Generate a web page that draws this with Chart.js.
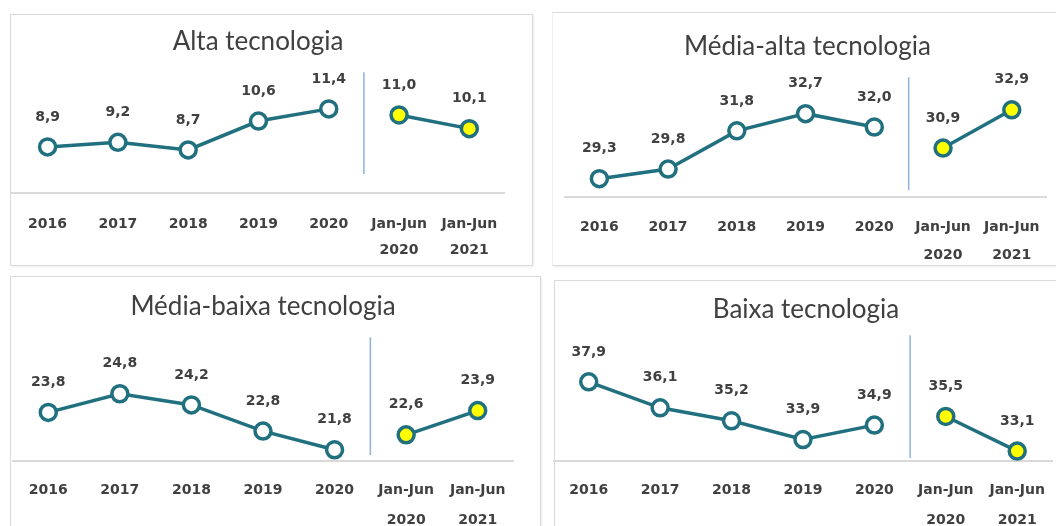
<!DOCTYPE html>
<html>
<head>
<meta charset="utf-8">
<script src="https://cdn.jsdelivr.net/npm/chart.js@4"></script>
<style>
  body { margin: 0; background: #fff; width: 1056px; height: 526px; overflow: hidden; position: relative; }
  .panel { position: absolute; box-sizing: border-box; border: 1px solid #dadada; box-shadow: 1px 1px 2px rgba(0,0,0,0.07); }
  .chart { position: absolute; }
</style>
</head>
<body>
<div class="panel" style="left:10px;top:14px;width:523px;height:252px"></div>
<div class="panel" style="left:552px;top:12px;width:520px;height:254px;border-left-color:#f0f0f0"></div>
<div class="panel" style="left:10px;top:276px;width:531px;height:270px"></div>
<div class="panel" style="left:554px;top:280px;width:520px;height:270px"></div>

<!-- canvases are taller than panels: the axis reserves tick padding twice -->
<div class="chart" style="left:10px;top:14px;width:523px;height:274px"><canvas id="chartAlta"></canvas></div>
<div class="chart" style="left:552px;top:12px;width:504px;height:274px"><canvas id="chartMediaAlta"></canvas></div>
<div class="chart" style="left:10px;top:276px;width:531px;height:276px"><canvas id="chartMediaBaixa"></canvas></div>
<div class="chart" style="left:553px;top:280px;width:506px;height:276px"><canvas id="chartBaixa"></canvas></div>

<script>
// Categories (annual + first-half comparisons)
const categories = ['2016', '2017', '2018', '2019', '2020', ['Jan-Jun', '2020'], ['Jan-Jun', '2021']];

// Values per technology group (%)
const altaAnual = [8.9, 9.2, 8.7, 10.6, 11.4];
const altaSemestre = [11.0, 10.1];
const mediaAltaAnual = [29.3, 29.8, 31.8, 32.7, 32.0];
const mediaAltaSemestre = [30.9, 32.9];
const mediaBaixaAnual = [23.8, 24.8, 24.2, 22.8, 21.8];
const mediaBaixaSemestre = [22.6, 23.9];
const baixaAnual = [37.9, 36.1, 35.2, 33.9, 34.9];
const baixaSemestre = [35.5, 33.1];

const TEAL = '#21707f';
const TEXT = '#404040';

// vertical divider between annual and half-year points
const separatorPlugin = {
    id: 'separator',
    afterDatasetsDraw(chart, args, opts) {
        const ctx = chart.ctx;
        const x = chart.scales.x;
        const xp = (x.getPixelForValue(4) + x.getPixelForValue(5)) / 2;
        const { top, bottom } = chart.chartArea;
        ctx.save();
        ctx.strokeStyle = '#8db2dd';
        ctx.lineWidth = 1.5;
        ctx.beginPath();
        ctx.moveTo(xp, top + opts.top);
        ctx.lineTo(xp, bottom - opts.bottom);
        ctx.stroke();
        ctx.restore();
    }
};

// value labels above each point, decimal comma
const valueLabelPlugin = {
    id: 'valueLabels',
    afterDatasetsDraw(chart) {
        const ctx = chart.ctx;
        ctx.save();
        ctx.font = 'bold 14px "DejaVu Sans"';
        ctx.fillStyle = TEXT;
        ctx.textAlign = 'center';
        ctx.textBaseline = 'middle';
        chart.data.datasets.forEach((ds, i) => {
            chart.getDatasetMeta(i).data.forEach((pt, j) => {
                const v = ds.data[j];
                if (v === null || v === undefined) return;
                ctx.fillText(v.toFixed(1).replace('.', ','), pt.x, pt.y - 30);
            });
        });
        ctx.restore();
    }
};

function makeChart(id, title, anual, semestre, cfg) {
    const lineStyle = {
        borderColor: TEAL,
        borderWidth: 3.5,
        pointRadius: 8,
        pointBorderWidth: 3.5,
        pointBorderColor: TEAL,
        spanGaps: false,
        clip: false
    };
    new Chart(document.getElementById(id), {
        type: 'line',
        data: {
            labels: categories,
            datasets: [
                { ...lineStyle, data: [...anual, null, null], pointBackgroundColor: '#ffffff' },
                { ...lineStyle, data: [null, null, null, null, null, ...semestre], pointBackgroundColor: '#ffff00' }
            ]
        },
        options: {
            responsive: true,
            maintainAspectRatio: false,
            animation: false,
            events: [],
            layout: { padding: cfg.padding, autoPadding: false },
            plugins: {
                legend: { display: false },
                tooltip: { enabled: false },
                title: {
                    display: true,
                    text: title,
                    color: TEXT,
                    font: { family: 'Lato', size: 26, weight: 'normal', lineHeight: 1.2 },
                    padding: cfg.titlePadding
                },
                separator: cfg.separator
            },
            scales: {
                x: {
                    offset: true,
                    grid: { display: false, drawTicks: false },
                    border: { color: '#d9d9d9', width: 2 },
                    ticks: {
                        color: TEXT,
                        font: { family: 'DejaVu Sans', size: 14, weight: 'bold', lineHeight: cfg.lineHeight + 'px' },
                        padding: cfg.tickPadding,
                        maxRotation: 0,
                        autoSkip: false
                    }
                },
                y: { display: false, min: cfg.min, max: cfg.max }
            }
        },
        plugins: [separatorPlugin, valueLabelPlugin]
    });
}

makeChart('chartAlta', 'Alta tecnologia', altaAnual, altaSemestre, {
    padding: { left: 1.5, right: 28.5, top: 0, bottom: 7 },
    titlePadding: { top: 12, bottom: 17 },
    lineHeight: 26, tickPadding: 18,
    min: 5.87, max: 13.68,
    separator: { top: -2, bottom: 19 }
});

makeChart('chartMediaAlta', 'Média-alta tecnologia', mediaAltaAnual, mediaAltaSemestre, {
    padding: { left: 13, right: 6, top: 0, bottom: 1 },
    titlePadding: { top: 19, bottom: 14 },
    lineHeight: 28, tickPadding: 16,
    min: 28.34, max: 34.66,
    separator: { top: 1, bottom: 7 }
});

makeChart('chartMediaBaixa', 'Média-baixa tecnologia', mediaBaixaAnual, mediaBaixaSemestre, {
    padding: { left: 2.5, right: 27.5, top: 0, bottom: 3 },
    titlePadding: { top: 15, bottom: 14 },
    lineHeight: 30, tickPadding: 14,
    min: 21.2, max: 27.88,
    separator: { top: 1, bottom: 6 }
});

makeChart('chartBaixa', 'Baixa tecnologia', baixaAnual, baixaSemestre, {
    padding: { left: 0, right: 0, top: 0, bottom: 7 },
    titlePadding: { top: 14.5, bottom: 12.5 },
    lineHeight: 30, tickPadding: 14,
    min: 32.41, max: 40.93,
    separator: { top: -3, bottom: 3 }
});
</script>
</body>
</html>
